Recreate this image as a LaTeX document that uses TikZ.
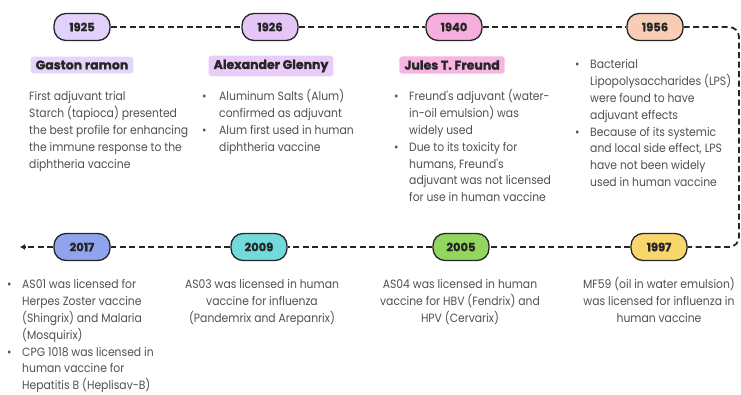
\documentclass[tikz,border=0pt]{standalone}
\usepackage{fontspec}
\setmainfont{Poppins}
\newfontfamily\notefont[FakeStretch=0.9]{Poppins}
\newfontfamily\heavyfont[BoldFeatures={FakeBold=1.2}]{Poppins}
\usepackage{xcolor}
\usepackage{tikz}
\usetikzlibrary{arrows.meta,positioning,calc}

\definecolor{inkdark}{HTML}{262626}
\definecolor{notegray}{HTML}{505050}
\definecolor{lavA}{HTML}{E2D2FB}
\definecolor{lavB}{HTML}{E6C6F7}
\definecolor{pinkC}{HTML}{F6AEDF}
\definecolor{peachD}{HTML}{F8CDB6}
\definecolor{yellowE}{HTML}{F9D66B}
\definecolor{greenF}{HTML}{93D65E}
\definecolor{cyanG}{HTML}{72DADA}
\definecolor{blueH}{HTML}{8FA4EC}
\definecolor{nameA}{HTML}{E4D6FB}
\definecolor{nameB}{HTML}{E9CCF8}
\definecolor{nameC}{HTML}{F7B6E2}

\tikzset{
  yearpill/.style={draw=inkdark, line width=1.3pt, rounded corners=12pt,
    minimum width=56pt, minimum height=27pt, inner sep=0pt,
    font=\heavyfont\bfseries\fontsize{11.5}{13}\selectfont, text=inkdark},
  dashline/.style={draw=inkdark, line width=1.8pt, dash pattern=on 6pt off 3.5pt},
  namebox/.style={rounded corners=3pt, inner xsep=5pt, inner ysep=4pt,
    font=\heavyfont\bfseries\fontsize{12.5}{14}\selectfont, text=inkdark},
  note/.style={inner sep=0pt, text=notegray,
    font=\notefont\fontsize{12}{16.8}\selectfont}
}

\begin{document}
\begin{tikzpicture}[x=1pt,y=-1pt]
    \useasboundingbox (0,0) rectangle (741,395);

    % Year pills
    \foreach \yr/\x/\y/\col in {1925/82/27/lavA, 1926/270/27/lavB, 1940/454/27/pinkC,
        1956/655/27/peachD, 1997/659/247/yellowE, 2005/461/247/greenF,
        2009/259/247/cyanG, 2017/82/247/blueH} {
        \node[yearpill, fill=\col] (y\yr) at (\x,\y) {\yr};
    }

    % Timeline
    \coordinate (turnA) at (739,27);
    \coordinate (turnB) at (739,247);
    \coordinate (arrowend) at (20,247);
    \draw[dashline] (y1925) -- (y1926) -- (y1940) -- (y1956);
    \draw[dashline, rounded corners=10pt] (y1956) -- (turnA) -- (turnB) -- (y1997);
    \draw[dashline] (y1997) -- (y2005) -- (y2009) -- (y2017);
    \draw[dashline, -{Latex[length=5pt,width=6pt]}] (y2017) -- (arrowend);

    % Names
    \node[namebox, fill=nameA] (ramon) at (82,65) {Gaston ramon};
    \node[namebox, fill=nameB] (glenny) at (271,66) {Alexander Glenny};
    \node[namebox, fill=nameC] (freund) at (452,65) {Jules T. Freund};

    % Top row notes
    \node[note, anchor=north west] (n1925) at (29,89) {%
        \begin{tabular}{@{}l@{}}
        First adjuvant trial\\
        Starch (tapioca) presented\\
        the best profile for enhancing\\
        the immune response to the\\
        diphtheria vaccine
        \end{tabular}};
    \node[note, anchor=north west] (n1926) at (202,89) {%
        \begin{tabular}{@{}p{17pt}@{}l@{}}
        \textbullet & Aluminum Salts (Alum)\\
        & confirmed as adjuvant\\
        \textbullet & Alum first used in human\\
        & diphtheria vaccine
        \end{tabular}};
    \node[note, anchor=north west] (n1940) at (394,89) {%
        \begin{tabular}{@{}p{15pt}@{}l@{}}
        \textbullet & Freund's adjuvant (water-\\
        & in-oil emulsion) was\\
        & widely used\\
        \textbullet & Due to its toxicity for\\
        & humans, Freund's\\
        & adjuvant was not licensed\\
        & for use in human vaccine
        \end{tabular}};
    \node[note, anchor=north west] (n1956) at (575,57) {%
        \begin{tabular}{@{}p{15pt}@{}l@{}}
        \textbullet & Bacterial\\
        & Lipopolysaccharides (LPS)\\
        & were found to have\\
        & adjuvant effects\\
        \textbullet & Because of its systemic\\
        & and local side effect, LPS\\
        & have not been widely\\
        & used in human vaccine
        \end{tabular}};

    % Bottom row notes
    \node[note, anchor=north west] (n2017) at (7,277) {%
        \begin{tabular}{@{}p{15pt}@{}l@{}}
        \textbullet & AS01 was licensed for\\
        & Herpes Zoster vaccine\\
        & (Shingrix) and Malaria\\
        & (Mosquirix)\\
        \textbullet & CPG 1018 was licensed in\\
        & human vaccine for\\
        & Hepatitis B (Heplisav-B)
        \end{tabular}};
    \node[note, anchor=north] (n2009) at (262,277) {%
        \begin{tabular}{@{}c@{}}
        AS03 was licensed in human\\
        vaccine for influenza\\
        (Pandemrix and Arepanrix)
        \end{tabular}};
    \node[note, anchor=north] (n2005) at (460,277) {%
        \begin{tabular}{@{}c@{}}
        AS04 was licensed in human\\
        vaccine for HBV (Fendrix) and\\
        HPV (Cervarix)
        \end{tabular}};
    \node[note, anchor=north] (n1997) at (659,277) {%
        \begin{tabular}{@{}c@{}}
        MF59 (oil in water emulsion)\\
        was licensed for influenza in\\
        human vaccine
        \end{tabular}};
\end{tikzpicture}
\end{document}
